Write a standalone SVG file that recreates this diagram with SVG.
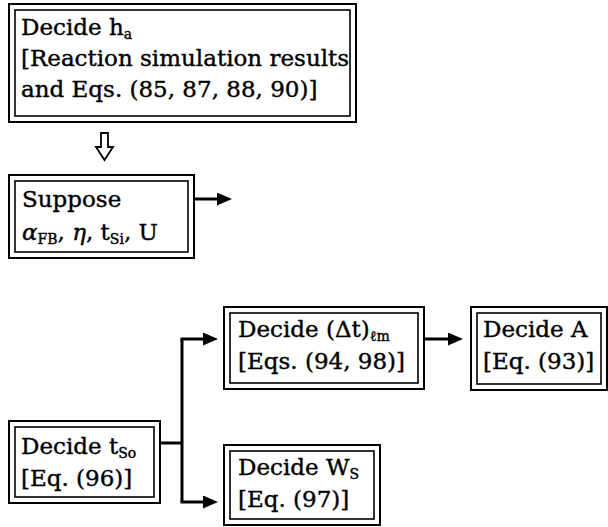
<svg xmlns="http://www.w3.org/2000/svg" width="608" height="527" viewBox="0 0 608 527">
<style>
.o{fill:#fff;stroke:#000;stroke-width:2}
.i{fill:none;stroke:#000;stroke-width:1.6}
text{font-family:"DejaVu Serif","Liberation Serif",serif;font-size:23px;fill:#000;stroke:#000;stroke-width:0.4}
.sub{font-size:14px}
.c{fill:none;stroke:#000;stroke-width:3}
</style>
<defs>
<marker id="ah" markerUnits="userSpaceOnUse" markerWidth="16" markerHeight="14" refX="1" refY="6.5" orient="auto">
<path d="M0,0 L15,6.5 L0,13 Z" fill="#000"/>
</marker>
</defs>
<g id="connectors">
<path class="c" d="M194,199 H218" marker-end="url(#ah)"/>
<path class="c" d="M160,443 H182"/>
<path class="c" d="M182,339 V502"/>
<path class="c" d="M180.5,339 H204" marker-end="url(#ah)"/>
<path class="c" d="M180.5,502 H204" marker-end="url(#ah)"/>
<path class="c" d="M424,339 H449" marker-end="url(#ah)"/>
<path d="M101,133 H108 V147 H113 L104.5,160 L96,147 H101 Z" fill="#fff" stroke="#000" stroke-width="1.8" stroke-linejoin="miter"/>
</g>
<g id="decide-ha">
<rect class="o" x="9" y="4" width="347" height="118"/>
<rect class="i" x="15" y="10" width="335" height="106"/>
<text x="21" y="35">Decide h<tspan class="sub" dy="4">a</tspan></text>
<text x="21" y="66">[Reaction simulation results</text>
<text x="21" y="97">and Eqs. (85, 87, 88, 90)]</text>
</g>
<g id="suppose">
<rect class="o" x="9" y="175" width="185" height="83"/>
<rect class="i" x="15" y="181" width="173" height="71"/>
<text x="22" y="207">Suppose</text>
<text x="22" y="240"><tspan font-style="italic">α</tspan><tspan class="sub" dy="4">FB</tspan><tspan dy="-4">, </tspan><tspan font-style="italic">η</tspan><tspan>, t</tspan><tspan class="sub" dy="4">Si</tspan><tspan dy="-4">, U</tspan></text>
</g>
<g id="decide-tso">
<rect class="o" x="9" y="421" width="151" height="82"/>
<rect class="i" x="15" y="427" width="139" height="70"/>
<text x="21" y="454">Decide t<tspan class="sub" dy="4">So</tspan></text>
<text x="21" y="486">[Eq. (96)]</text>
</g>
<g id="decide-dt">
<rect class="o" x="224" y="307" width="200" height="82"/>
<rect class="i" x="230" y="313" width="188" height="70"/>
<text x="238" y="337">Decide (Δt)<tspan class="sub" dy="4">ℓm</tspan></text>
<text x="238" y="369">[Eqs. (94, 98)]</text>
</g>
<g id="decide-a">
<rect class="o" x="471" y="307" width="136" height="83"/>
<rect class="i" x="477" y="313" width="124" height="71"/>
<text x="483" y="337">Decide A</text>
<text x="483" y="369">[Eq. (93)]</text>
</g>
<g id="decide-ws">
<rect class="o" x="224" y="445" width="156" height="80"/>
<rect class="i" x="230" y="451" width="144" height="68"/>
<text x="238" y="475">Decide W<tspan class="sub" dy="4">S</tspan></text>
<text x="238" y="507">[Eq. (97)]</text>
</g>
</svg>
